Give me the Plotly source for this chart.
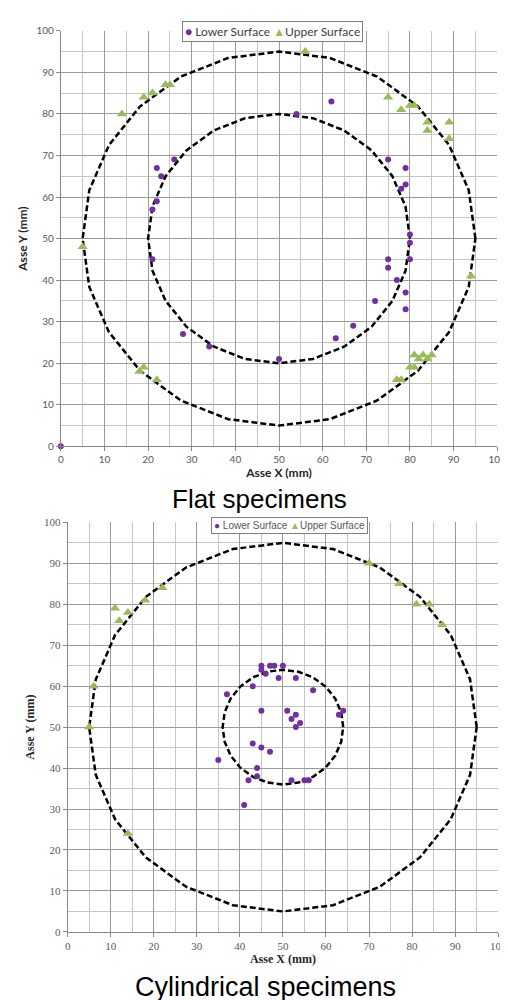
import numpy as np
import plotly.graph_objects as go

# ---------------- data ----------------
flat_lower_x = [0, 21, 21, 22, 22, 23, 26, 28, 34, 50, 54, 62, 63, 67, 72, 75, 75, 75, 77, 78, 79, 79, 79, 79, 80, 80, 80]
flat_lower_y = [0, 45, 57, 59, 67, 65, 69, 27, 24, 21, 80, 83, 26, 29, 35, 69, 45, 43, 40, 62, 67, 63, 37, 33, 51, 49, 45]

flat_upper_x = [5, 14, 19, 21, 24, 25, 56, 75, 78, 80, 81, 84, 84, 89, 89, 94, 18, 19, 22, 77, 78, 80, 81, 81, 82, 83, 84, 85]
flat_upper_y = [48, 80, 84, 85, 87, 87, 95, 84, 81, 82, 82, 78, 76, 78, 74, 41, 18, 19, 16, 16, 16, 19, 19, 22, 21, 22, 21, 22]

cyl_lower_x = [37, 43, 45, 45, 46, 47, 48, 50, 49, 53, 57, 45, 51, 53, 52, 54, 53, 63, 64, 35, 43, 45, 47, 44, 44, 42, 41, 52, 55, 56]
cyl_lower_y = [58, 60, 65, 64, 63, 65, 65, 65, 62, 62, 59, 54, 54, 53, 52, 51, 50, 53, 54, 42, 46, 45, 44, 40, 38, 37, 31, 37, 37, 37]

cyl_upper_x = [5, 6, 11, 12, 14, 18, 22, 14, 70, 77, 81, 84, 87]
cyl_upper_y = [50, 60, 79, 76, 78, 81, 84, 24, 90, 85, 80, 80, 75]

circle_center = (50, 50)
flat_radii = [30, 45]
cyl_radii = [14, 45]
circle_vertices = 24

axis_ticks = list(range(0, 101, 10))
panel_titles = ["Flat specimens", "Cylindrical specimens"]
series_names = ["Lower Surface", "Upper Surface"]

PURPLE = "#7030A0"
GREEN = "#9BBB59"


def circle(r):
    t = np.linspace(0, 2 * np.pi, circle_vertices + 1)
    return circle_center[0] + r * np.cos(t), circle_center[1] + r * np.sin(t)


fig = go.Figure()

# -------- top panel: flat --------
for r in flat_radii:
    cx, cy = circle(r)
    fig.add_trace(go.Scatter(x=cx, y=cy, mode="lines", xaxis="x", yaxis="y",
                             line=dict(color="black", width=2.5, dash="6px,3px"),
                             showlegend=False, hoverinfo="skip"))
fig.add_trace(go.Scatter(x=flat_lower_x, y=flat_lower_y, mode="markers", name=series_names[0],
                         xaxis="x", yaxis="y", cliponaxis=False,
                         marker=dict(color=PURPLE, size=6, symbol="circle"), showlegend=False))
fig.add_trace(go.Scatter(x=flat_upper_x, y=flat_upper_y, mode="markers", name=series_names[1],
                         xaxis="x", yaxis="y", cliponaxis=False,
                         marker=dict(color=GREEN, size=9, symbol="triangle-up"), showlegend=False))

# -------- bottom panel: cylindrical --------
for r in cyl_radii:
    cx, cy = circle(r)
    fig.add_trace(go.Scatter(x=cx, y=cy, mode="lines", xaxis="x2", yaxis="y2",
                             line=dict(color="black", width=2.5, dash="6px,3px"),
                             showlegend=False, hoverinfo="skip"))
fig.add_trace(go.Scatter(x=cyl_lower_x, y=cyl_lower_y, mode="markers", name=series_names[0],
                         xaxis="x2", yaxis="y2", cliponaxis=False,
                         marker=dict(color=PURPLE, size=6, symbol="circle"), showlegend=False))
fig.add_trace(go.Scatter(x=cyl_upper_x, y=cyl_upper_y, mode="markers", name=series_names[1],
                         xaxis="x2", yaxis="y2", cliponaxis=False,
                         marker=dict(color=GREEN, size=9, symbol="triangle-up"), showlegend=False))


def axis_style(domain, anchor, font_family, tick_size, title_text, title_size, standoff):
    return dict(
        domain=domain, anchor=anchor, range=[0, 100], tickvals=axis_ticks,
        showgrid=True, gridcolor="#9a9a9a", gridwidth=1,
        minor=dict(dtick=5, showgrid=True, gridcolor="#c6c6c6", gridwidth=1),
        showline=True, linecolor="#868686", linewidth=1,
        ticks="outside", ticklen=4, tickcolor="#868686",
        zeroline=False, fixedrange=True,
        tickfont=dict(family=font_family, size=tick_size, color="#595959"),
        title=dict(text=title_text, standoff=standoff,
                   font=dict(family=font_family, size=title_size, color="#262626")),
    )


top_font = "Lato"
bot_font = "Liberation Serif"

fig.update_layout(
    width=508, height=1000,
    margin=dict(l=0, r=0, t=0, b=0),
    paper_bgcolor="white", plot_bgcolor="white",
    showlegend=False,
    xaxis=axis_style([51 / 508, 498 / 508], "y", top_font, 10, "<b>Asse X (mm)</b>", 12, 0),
    yaxis=axis_style([0.563, 0.984], "x", top_font, 10, "<b>Asse Y (mm)</b>", 12, 6),
    xaxis2=axis_style([58 / 508, 499 / 508], "y2", bot_font, 11, "<b>Asse X (mm)</b>", 12, 0),
    yaxis2=axis_style([0.071, 0.486], "x2", bot_font, 11, "<b>Asse Y (mm)</b>", 12, 6),
)

legend_text = (f'<span style="color:{PURPLE}">●</span> {series_names[0]} '
               f'<span style="color:{GREEN}">▲</span>{series_names[1]}')

fig.add_annotation(x=268 / 508, y=1 - 17 / 1000, xref="paper", yref="paper",
                   xanchor="center", yanchor="middle", showarrow=False,
                   text=legend_text, bgcolor="white", bordercolor="#7f7f7f", borderwidth=1,
                   borderpad=2, font=dict(family=top_font, size=12, color="#404040"))
fig.add_annotation(x=285 / 508, y=1 - 517 / 1000, xref="paper", yref="paper",
                   xanchor="center", yanchor="middle", showarrow=False,
                   text=legend_text, bgcolor="white", bordercolor="#7f7f7f", borderwidth=1,
                   borderpad=2, font=dict(family="Liberation Sans", size=10, color="#595959"))

fig.add_annotation(x=0.5, y=1 - 490 / 1000, xref="paper", yref="paper",
                   xanchor="center", yanchor="middle", showarrow=False,
                   text=panel_titles[0], font=dict(family="Liberation Sans", size=26, color="black"))
fig.add_annotation(x=261 / 508, y=1 - 985 / 1000, xref="paper", yref="paper",
                   xanchor="center", yanchor="middle", showarrow=False,
                   text=panel_titles[1], font=dict(family="Liberation Sans", size=27, color="black"))

fig.write_html("out.html")
